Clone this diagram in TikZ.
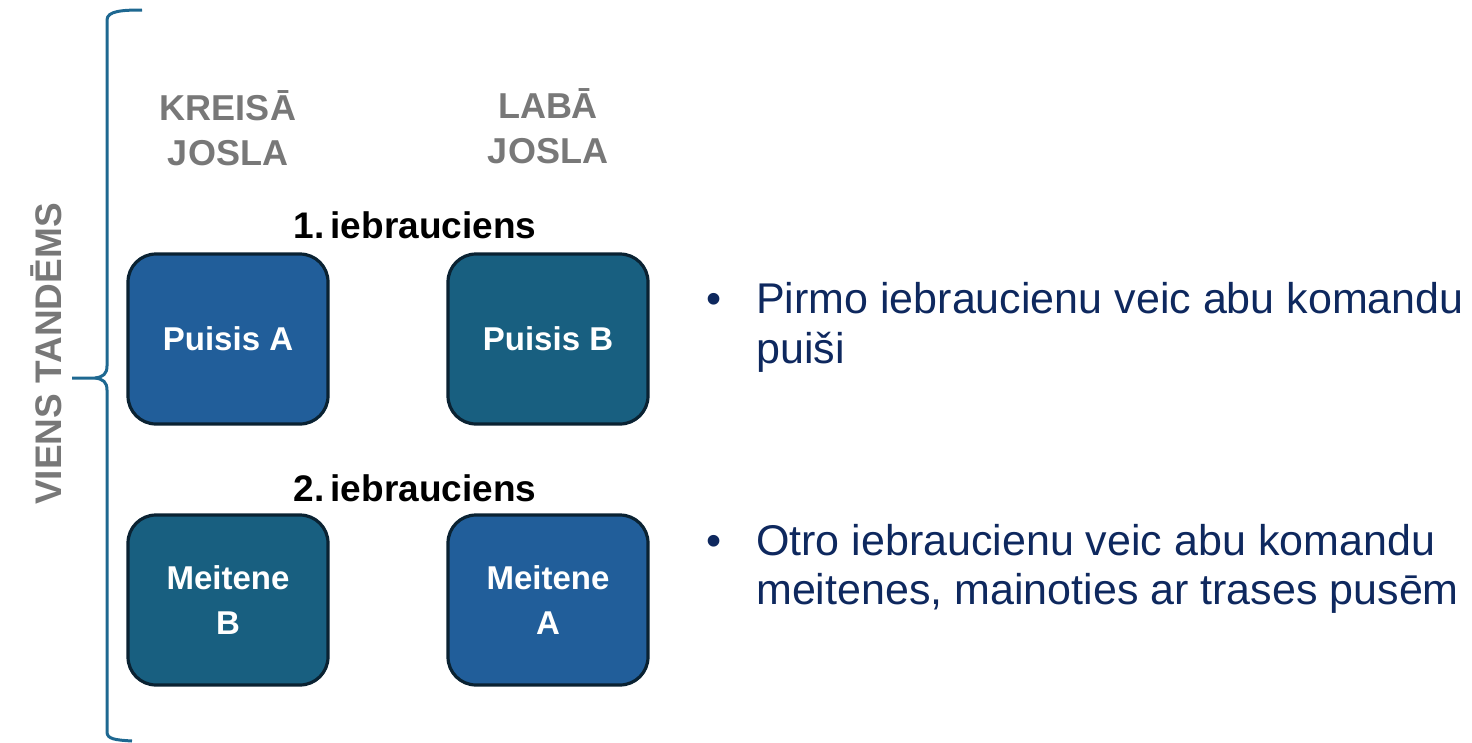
\documentclass[tikz,border=0pt]{standalone}
\usepackage{fontspec}
\setmainfont{Liberation Sans}
\definecolor{boxblue}{RGB}{33,94,154}
\definecolor{boxteal}{RGB}{24,95,128}
\definecolor{boxedge}{RGB}{10,34,50}
\definecolor{bracecol}{RGB}{30,104,145}
\definecolor{greytxt}{RGB}{120,120,120}
\definecolor{navytxt}{RGB}{14,40,94}
\begin{document}
\begin{tikzpicture}[x=1pt,y=-1pt,
  tile/.style={draw=boxedge, line width=3.2pt, rounded corners=28pt,
    minimum width=200pt, minimum height=170pt, text=white, align=center,
    font=\fontsize{33}{45}\selectfont\bfseries, inner sep=0pt},
  lanehead/.style={text=greytxt, align=center, font=\fontsize{36}{45}\selectfont\bfseries},
  runlabel/.style={text=black, font=\fontsize{37}{42}\selectfont\bfseries},
  bullettxt/.style={text=navytxt, anchor=base west, inner sep=0pt, font=\fontsize{43}{50}\selectfont},
  bulletdot/.style={text=navytxt, anchor=base, inner sep=0pt, font=\fontsize{43}{50}\selectfont}
]
\useasboundingbox (0,0) rectangle (1472,742);

% brace
\draw[bracecol, line width=3pt]
  (142,10) .. controls (122,10) and (107,11) .. (107,20)
  -- (107,366) .. controls (107,374) and (103,377) .. (95,378)
  -- (72,378);
\draw[bracecol, line width=3pt]
  (95,378) .. controls (103,379) and (107,382) .. (107,390)
  -- (107,732) .. controls (107,739) and (115,740) .. (132,741);

\node[text=greytxt, rotate=90, font=\fontsize{37}{40}\selectfont\bfseries] (tandems) at (46,354) {VIENS TANDĒMS};

\node[lanehead] (left) at (228,128) {KREISĀ\\JOSLA};
\node[lanehead] (right) at (548,126) {LABĀ\\JOSLA};

\node[runlabel] (run1) at (415,225) {1.\,iebrauciens};
\node[runlabel] (run2) at (415,488) {2.\,iebrauciens};

\node[tile, fill=boxblue] (pa) at (228,339) {Puisis A};
\node[tile, fill=boxteal] (pb) at (548,339) {Puisis B};
\node[tile, fill=boxteal] (mb) at (228,600) {Meitene\\B};
\node[tile, fill=boxblue] (ma) at (548,600) {Meitene\\A};

\node[bulletdot] (d1) at (714,313) {•};
\node[bullettxt] (t1a) at (756,313) {Pirmo iebraucienu veic abu komandu};
\node[bullettxt] (t1b) at (756,363) {puiši};
\node[bulletdot] (d2) at (714,555) {•};
\node[bullettxt] (t2a) at (756,555) {Otro iebraucienu veic abu komandu};
\node[bullettxt] (t2b) at (756,604) {meitenes, mainoties ar trases pusēm};
\end{tikzpicture}
\end{document}
